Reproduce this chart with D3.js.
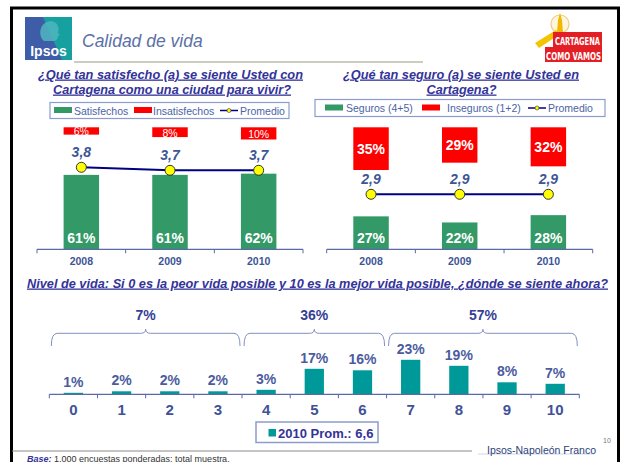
<!DOCTYPE html>
<html>
<head>
<meta charset="utf-8">
<script src="https://cdn.jsdelivr.net/npm/d3@7"></script>
<style>
  html, body { margin: 0; padding: 0; background: #fff; }
  svg { display: block; font-family: "Liberation Sans", Arial, sans-serif; }
</style>
</head>
<body>
<svg id="chart" width="625" height="462"></svg>
<script>
// ---- Data ----
const years = ["2008", "2009", "2010"];
const satisfechos = [61, 61, 62];
const insatisfechos = [6, 8, 10];
const promedioCiudad = [3.8, 3.7, 3.7];
const seguros = [27, 22, 28];
const inseguros = [35, 29, 32];
const promedioSeguridad = [2.9, 2.9, 2.9];
const nivelCategorias = ["0", "1", "2", "3", "4", "5", "6", "7", "8", "9", "10"];
const nivelValores = [1, 2, 2, 2, 3, 17, 16, 23, 19, 8, 7];
const grupoEtiquetas = ["7%", "36%", "57%"];
const grupoDesde = [0, 4, 7];
const grupoHasta = [3, 6, 10];
const promedioNivel = 6.6;

// ---- Styles ----
const C = {
  green: "#339966", red: "#ff0000", teal: "#009999",
  heading: "#333399", label: "#3d5596", axis: "#5a6aa6",
  line: "#000080", dot: "#ffff00", legendText: "#4a64a6",
  legendBorder: "#8c9ccc"
};
const comma = d3.formatLocale({ decimal: ",", thousands: ".", grouping: [3], currency: ["", ""] });
const f1 = comma.format(".1f");
const pct = v => v + "%";

const svg = d3.select("#chart");

// ---- Slide frame and header ----
svg.append("rect").attr("x", 11.5).attr("y", 8).attr("width", 607).attr("height", 480)
  .attr("fill", "none").attr("stroke", "#000").attr("stroke-width", 3);

// Ipsos logo
const logo = svg.append("g");
logo.append("rect").attr("x", 25).attr("y", 17).attr("width", 47).attr("height", 43).attr("fill", "#3f5ca8");
logo.append("path").attr("d", "M43,17 L72,17 L72,60 L62,60 Z").attr("fill", "#16a0a0");
logo.append("path")
  .attr("d", "M44,41 C40,38 39,31 42,26 C45,21 52,20 56,23 C59,26 59,30 58,33 L60,35 L58,36 C58,39 56,41 53,41 Z")
  .attr("fill", "#4fb6c0").attr("opacity", 0.85);
logo.append("text").attr("x", 48.5).attr("y", 56).attr("text-anchor", "middle")
  .attr("fill", "#fff").attr("font-size", 14).attr("font-weight", "bold").text("Ipsos");

svg.append("text").attr("x", 82).attr("y", 47).attr("font-size", 17.5).attr("font-style", "italic")
  .attr("fill", "#5b70a8").text("Calidad de vida");
svg.append("line").attr("x1", 74).attr("x2", 423).attr("y1", 62).attr("y2", 62)
  .attr("stroke", "#9a9a82").attr("stroke-width", 1.2);

// Cartagena Cómo Vamos logo
const cg = svg.append("g");
cg.append("circle").attr("cx", 560).attr("cy", 24).attr("r", 9).attr("fill", "#fff6dc").attr("stroke", "#eccb86").attr("stroke-width", 1.2);
cg.append("path").attr("d", "M560,13 L562,20 L563,33 L557,33 L558,20 Z").attr("fill", "#f0b800");
cg.append("path").attr("d", "M535,43 L556,30 L560,34 L539,48 Z").attr("fill", "#f5c400");
cg.append("path").attr("d", "M553,32 L602,32 L602,62 L545,62 L545,47 L553,47 Z").attr("fill", "#e31e24");
cg.append("text").attr("x", 555).attr("y", 45).attr("font-family", "'DejaVu Sans Condensed', 'Liberation Sans'")
  .attr("font-weight", "bold").attr("font-size", 11).attr("fill", "#fff")
  .attr("textLength", 45).attr("lengthAdjust", "spacingAndGlyphs").text("CARTAGENA");
cg.append("text").attr("x", 546).attr("y", 60).attr("font-family", "'DejaVu Sans Condensed', 'Liberation Sans'")
  .attr("font-weight", "bold").attr("font-size", 11).attr("fill", "#fff")
  .attr("textLength", 55).attr("lengthAdjust", "spacingAndGlyphs").text("COMO VAMOS");

// ---- Headings ----
function heading(x, y, txt, len, anchor) {
  svg.append("text").attr("x", x).attr("y", y).attr("text-anchor", anchor || "middle")
    .attr("font-size", 13).attr("font-weight", "bold").attr("font-style", "italic")
    .attr("fill", C.heading).style("text-decoration", "underline")
    .attr("textLength", len).attr("lengthAdjust", "spacingAndGlyphs").text(txt);
}
heading(170.5, 78.5, "¿Qué tan satisfecho (a) se siente Usted con", 265);
heading(172, 93.5, "Cartagena como una ciudad para vivir?", 238);
heading(461, 78.5, "¿Qué tan seguro (a) se siente Usted en", 236);
heading(461.5, 93.5, "Cartagena?", 70);
heading(27, 287.5, "Nivel de vida: Si 0 es la peor vida posible y 10 es la mejor vida posible, ¿dónde se siente ahora?", 581, "start");

// ---- Legends ----
function legend(box, items) {
  const g = svg.append("g");
  g.append("rect").attr("x", box[0]).attr("y", box[1]).attr("width", box[2]).attr("height", box[3])
    .attr("fill", "#fff").attr("stroke", C.legendBorder).attr("stroke-width", 1.2);
  const cy = box[1] + box[3] / 2;
  items.forEach(it => {
    if (it.type === "line") {
      g.append("line").attr("x1", it.x).attr("x2", it.x + 18).attr("y1", cy).attr("y2", cy)
        .attr("stroke", C.line).attr("stroke-width", 1.5);
      g.append("circle").attr("cx", it.x + 9).attr("cy", cy).attr("r", 2)
        .attr("fill", C.dot).attr("stroke", "#333").attr("stroke-width", 0.6);
    } else {
      g.append("rect").attr("x", it.x).attr("y", cy - 3.5).attr("width", 18).attr("height", 6).attr("fill", it.color);
    }
    g.append("text").attr("x", it.tx).attr("y", cy).attr("dominant-baseline", "central")
      .attr("font-size", 10.5).attr("fill", C.legendText).text(it.text);
  });
}
legend([50, 102.5, 239, 16], [
  { color: C.green, x: 54, tx: 74, text: "Satisfechos" },
  { color: C.red, x: 134, tx: 153, text: "Insatisfechos" },
  { type: "line", x: 220, tx: 240, text: "Promedio" }
]);
legend([315, 99.5, 290, 17], [
  { color: C.green, x: 325, tx: 346, text: "Seguros (4+5)" },
  { color: C.red, x: 422, tx: 447, text: "Inseguros (1+2)" },
  { type: "line", x: 528, tx: 548, text: "Promedio" }
]);

// ---- Top charts ----
const yPct = d3.scaleLinear().domain([0, 100]).range([249.3, 127.3]);
const yAvg = d3.scaleLinear().domain([2.5, 4.5]).range([206.3, 146.3]);

function topChart(x0, x1, good, bad, avg, bigBad) {
  const xs = d3.scaleBand().domain(years).range([x0, x1]).paddingInner(0.6).paddingOuter(0.3);
  const g = svg.append("g");
  const y0 = yPct(0);

  // green bars (positive share) from the baseline
  g.selectAll(".good").data(good).join("rect")
    .attr("x", (d, i) => xs(years[i])).attr("width", xs.bandwidth())
    .attr("y", d => yPct(d)).attr("height", d => y0 - yPct(d)).attr("fill", C.green);
  g.selectAll(".goodLbl").data(good).join("text")
    .attr("x", (d, i) => xs(years[i]) + xs.bandwidth() / 2).attr("y", y0 - 11)
    .attr("text-anchor", "middle").attr("dominant-baseline", "central")
    .attr("font-size", 14).attr("font-weight", "bold").attr("fill", "#fff").text(pct);

  // red bars (negative share) stacked down from the 100% line
  g.selectAll(".bad").data(bad).join("rect")
    .attr("x", (d, i) => xs(years[i])).attr("width", xs.bandwidth())
    .attr("y", yPct(100)).attr("height", d => yPct(100 - d) - yPct(100)).attr("fill", C.red);
  g.selectAll(".badLbl").data(bad).join("text")
    .attr("x", (d, i) => xs(years[i]) + xs.bandwidth() / 2)
    .attr("y", d => (yPct(100) + yPct(100 - d)) / 2 + (bigBad ? 0 : 0.5))
    .attr("text-anchor", "middle").attr("dominant-baseline", "central")
    .attr("font-size", bigBad ? 14 : 10.5).attr("font-weight", bigBad ? "bold" : "normal")
    .attr("fill", "#fff").text(pct);

  // axis
  g.append("line").attr("x1", x0).attr("x2", x1).attr("y1", y0).attr("y2", y0)
    .attr("stroke", C.axis).attr("stroke-width", 1.3);
  d3.range(years.length + 1).forEach(k => {
    const x = x0 + k * xs.step();
    g.append("line").attr("x1", x).attr("x2", x).attr("y1", y0).attr("y2", y0 + 4)
      .attr("stroke", C.axis).attr("stroke-width", 1);
  });
  const ax = g.append("g").attr("transform", `translate(0,${y0})`)
    .call(d3.axisBottom(xs).tickSize(0).tickPadding(8.7));
  ax.select(".domain").remove();
  ax.selectAll("text").attr("font-size", 10.5).attr("font-weight", "bold").attr("fill", C.label)
    .attr("font-family", "'Liberation Sans', Arial, sans-serif");

  // average line
  const cx = (d, i) => xs(years[i]) + xs.bandwidth() / 2;
  g.append("path").datum(avg)
    .attr("d", d3.line().x(cx).y(d => yAvg(d)))
    .attr("fill", "none").attr("stroke", C.line).attr("stroke-width", 2);
  g.selectAll(".dot").data(avg).join("circle")
    .attr("cx", cx).attr("cy", d => yAvg(d)).attr("r", 5)
    .attr("fill", C.dot).attr("stroke", "#333").attr("stroke-width", 1);
  g.selectAll(".avgLbl").data(avg).join("text")
    .attr("x", cx).attr("y", d => yAvg(d) - 15)
    .attr("text-anchor", "middle").attr("dominant-baseline", "central")
    .attr("font-size", 14).attr("font-weight", "bold").attr("font-style", "italic")
    .attr("fill", C.label).text(f1);
}
topChart(37, 303, satisfechos, insatisfechos, promedioCiudad, false);
topChart(326.7, 592.7, seguros, inseguros, promedioSeguridad, true);

// ---- Bottom chart: life level 0-10 ----
const xb = d3.scaleBand().domain(nivelCategorias).range([49.3, 579.3]).paddingInner(0.6).paddingOuter(0.3);
const yb = d3.scaleLinear().domain([0, 25]).range([394.3, 356.8]);
const gb = svg.append("g");
gb.selectAll(".bar").data(nivelValores).join("rect")
  .attr("x", (d, i) => xb(nivelCategorias[i])).attr("width", xb.bandwidth())
  .attr("y", d => yb(d)).attr("height", d => yb(0) - yb(d)).attr("fill", C.teal);
gb.selectAll(".lbl").data(nivelValores).join("text")
  .attr("x", (d, i) => xb(nivelCategorias[i]) + xb.bandwidth() / 2).attr("y", d => yb(d) - 11)
  .attr("text-anchor", "middle").attr("dominant-baseline", "central")
  .attr("font-size", 14).attr("font-weight", "bold").attr("fill", "#4b5ca0").text(pct);

gb.append("line").attr("x1", 49.3).attr("x2", 579.3).attr("y1", yb(0)).attr("y2", yb(0))
  .attr("stroke", C.axis).attr("stroke-width", 1.3);
d3.range(nivelCategorias.length + 1).forEach(k => {
  const x = 49.3 + k * xb.step();
  gb.append("line").attr("x1", x).attr("x2", x).attr("y1", yb(0)).attr("y2", yb(0) + 4)
    .attr("stroke", C.axis).attr("stroke-width", 1);
});
const axb = gb.append("g").attr("transform", `translate(0,${yb(0)})`)
  .call(d3.axisBottom(xb).tickSize(0).tickPadding(10.4));
axb.select(".domain").remove();
axb.selectAll("text").attr("font-size", 15).attr("font-weight", "bold").attr("fill", "#3f5298")
  .attr("font-family", "'Liberation Sans', Arial, sans-serif");

// group braces
const braceTop = 333.3, braceBottom = 346, cusp = 329.3;
grupoEtiquetas.forEach((lab, i) => {
  const a = 49.3 + grupoDesde[i] * xb.step() + 2;
  const b = 49.3 + (grupoHasta[i] + 1) * xb.step() - 2;
  const m = (a + b) / 2;
  gb.append("path")
    .attr("d", `M${a},${braceBottom} Q${a},${braceTop} ${a + 6},${braceTop} L${m - 5},${braceTop} Q${m},${braceTop} ${m},${cusp} Q${m},${braceTop} ${m + 5},${braceTop} L${b - 6},${braceTop} Q${b},${braceTop} ${b},${braceBottom}`)
    .attr("fill", "none").attr("stroke", "#7f8fc4").attr("stroke-width", 1);
  gb.append("text").attr("x", m).attr("y", 315).attr("text-anchor", "middle").attr("dominant-baseline", "central")
    .attr("font-size", 14).attr("font-weight", "bold").attr("fill", "#343f95").text(lab);
});

// bottom legend
const lg = svg.append("g");
lg.append("rect").attr("x", 256).attr("y", 422).attr("width", 122).attr("height", 20.5)
  .attr("fill", "#fff").attr("stroke", C.legendBorder).attr("stroke-width", 1.5);
lg.append("rect").attr("x", 268.5).attr("y", 429).attr("width", 7.5).attr("height", 7.5).attr("fill", C.teal);
lg.append("text").attr("x", 278).attr("y", 433).attr("dominant-baseline", "central")
  .attr("font-size", 13).attr("font-weight", "bold").attr("fill", C.heading)
  .text("2010 Prom.: " + f1(promedioNivel));

// ---- Footer ----
svg.append("line").attr("x1", 12).attr("x2", 472).attr("y1", 451).attr("y2", 451)
  .attr("stroke", "#8a8a8a").attr("stroke-width", 1.2);
svg.append("line").attr("x1", 478).attr("x2", 594).attr("y1", 454).attr("y2", 454)
  .attr("stroke", "#cfd6e8").attr("stroke-width", 1);
svg.append("text").attr("x", 487).attr("y", 450).attr("dominant-baseline", "central")
  .attr("font-size", 10.5).attr("fill", "#2d3f7c").attr("textLength", 109).text("Ipsos-Napoleón Franco");
svg.append("text").attr("x", 603).attr("y", 440.5).attr("dominant-baseline", "central")
  .attr("font-size", 7).attr("fill", "#777").text("10");
const base = svg.append("text").attr("x", 27).attr("y", 458.5).attr("dominant-baseline", "central")
  .attr("font-size", 9).attr("fill", "#333");
base.append("tspan").attr("font-weight", "bold").attr("font-style", "italic").attr("fill", C.heading).text("Base:");
base.append("tspan").text(" 1.000 encuestas ponderadas; total muestra.");
</script>
</body>
</html>
